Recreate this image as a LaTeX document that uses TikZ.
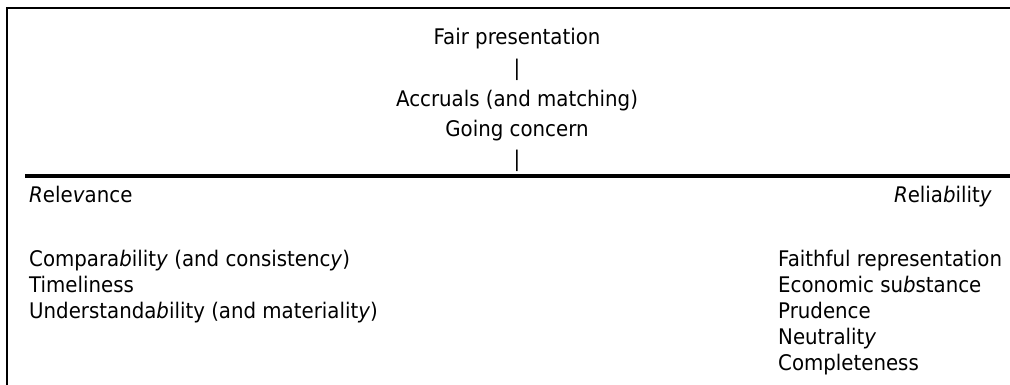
\documentclass[tikz,border=0pt]{standalone}
\usepackage{fontspec}
\setmainfont{DejaVu Sans}[FakeStretch=0.92]
\usetikzlibrary{positioning}

\newcommand{\itl}[1]{\textit{#1}}

\begin{document}
\begin{tikzpicture}[
    x=1pt, y=-1pt,
    txt/.style={inner sep=0pt, font=\fontsize{21.5}{26}\selectfont},
    mid/.style={txt, anchor=base},
    lft/.style={txt, anchor=base west},
    rgt/.style={txt, anchor=base east},
    frame/.style={line width=1.6pt},
    bar/.style={line width=4pt}
]
    \useasboundingbox (0,0) rectangle (1010,385);

    % Frame
    \coordinate (tl) at (7,8);
    \coordinate (tr) at (1010,8);
    \coordinate (bl) at (7,385);
    \draw[frame] (tr) -- (tl) -- (bl);

    % Overriding principles
    \node[mid] (fair) at (517,45) {Fair presentation};
    \node[mid] (pipe1) at (517,76) {|};
    \node[mid] (accr) at (517,107) {Accruals (and matching)};
    \node[mid] (going) at (517,137) {Going concern};
    \node[mid] (pipe2) at (517,167) {|};

    % Dividing rule
    \coordinate (bar-l) at (25,176);
    \coordinate (bar-r) at (1010,176);
    \draw[bar] (bar-l) -- (bar-r);

    % Relevance side
    \node[lft] (rel) at (29,203) {\itl{R}ele\itl{v}ance};
    \node[lft] (comp) at (29,266) {Compara\itl{b}ilit\itl{y} (and consistenc\itl{y})};
    \node[lft] (time) at (29,292) {Timeliness};
    \node[lft] (under) at (29,318) {Understanda\itl{b}ility (and materialit\itl{y})};

    % Reliability side
    \node[rgt] (reli) at (992,203) {\itl{R}elia\itl{b}ilit\itl{y}};
    \node[lft] (faith) at (778,266) {Faithful representation};
    \node[lft] (econ) at (778,292) {Economic su\itl{b}stance};
    \node[lft] (prud) at (778,318) {Prudence};
    \node[lft] (neut) at (778,344) {Neutralit\itl{y}};
    \node[lft] (compl) at (778,370) {Completeness};
\end{tikzpicture}
\end{document}
